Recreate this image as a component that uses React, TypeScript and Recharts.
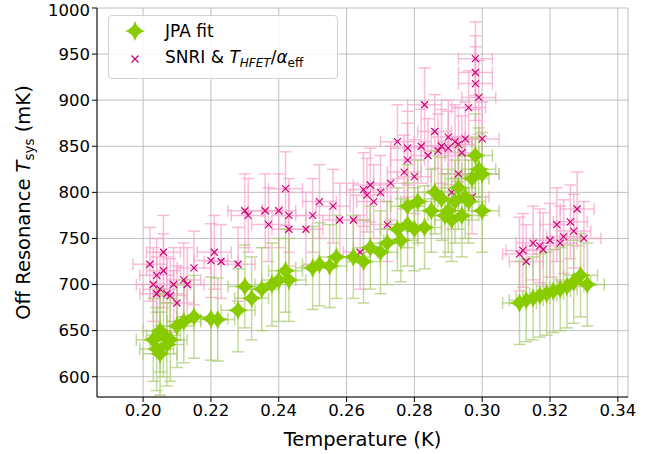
import React from 'react';
import { ScatterChart, Scatter, XAxis, YAxis, CartesianGrid, ErrorBar, Label } from 'recharts';

// JPA fit points [T (K), Tsys (mK)]
const jpaT = [0.203, 0.204, 0.205, 0.205, 0.206, 0.207, 0.208, 0.210, 0.212, 0.215, 0.220, 0.222, 0.228, 0.230, 0.232, 0.235, 0.238, 0.240, 0.242, 0.243, 0.250, 0.252, 0.255, 0.257, 0.262, 0.265, 0.267, 0.270, 0.272, 0.275, 0.276, 0.278, 0.278, 0.280, 0.281, 0.283, 0.285, 0.286, 0.288, 0.289, 0.290, 0.291, 0.292, 0.293, 0.294, 0.295, 0.296, 0.297, 0.298, 0.299, 0.300, 0.300, 0.311, 0.313, 0.315, 0.317, 0.319, 0.321, 0.323, 0.325, 0.327, 0.329, 0.331];
const jpaTsys = [640, 630, 625, 650, 645, 635, 640, 655, 660, 665, 663, 662, 672, 698, 685, 695, 700, 705, 715, 705, 718, 722, 720, 730, 730, 725, 740, 735, 745, 760, 748, 765, 785, 760, 790, 762, 780, 800, 793, 775, 780, 770, 790, 805, 775, 795, 790, 815, 840, 825, 820, 780, 680, 683, 685, 688, 690, 693, 695, 698, 703, 710, 700];

// SNRI & T_HFET/alpha_eff points
const snriT = [0.202, 0.203, 0.204, 0.204, 0.205, 0.206, 0.206, 0.207, 0.208, 0.209, 0.210, 0.212, 0.213, 0.215, 0.220, 0.221, 0.223, 0.228, 0.230, 0.231, 0.236, 0.237, 0.240, 0.242, 0.243, 0.243, 0.248, 0.250, 0.252, 0.256, 0.258, 0.262, 0.264, 0.265, 0.266, 0.267, 0.268, 0.270, 0.272, 0.273, 0.275, 0.277, 0.278, 0.278, 0.280, 0.282, 0.283, 0.284, 0.286, 0.287, 0.288, 0.290, 0.290, 0.291, 0.292, 0.293, 0.293, 0.294, 0.295, 0.296, 0.297, 0.298, 0.298, 0.298, 0.299, 0.300, 0.300, 0.311, 0.312, 0.313, 0.315, 0.317, 0.318, 0.320, 0.322, 0.323, 0.324, 0.326, 0.327, 0.328, 0.330];
const snriTsys = [722, 700, 690, 710, 695, 735, 715, 690, 688, 700, 680, 705, 700, 718, 726, 735, 725, 722, 780, 775, 780, 765, 780, 804, 760, 775, 760, 775, 790, 785, 770, 770, 735, 803, 797, 808, 790, 800, 765, 810, 855, 822, 835, 848, 817, 850, 895, 840, 866, 845, 850, 860, 848, 800, 855, 820, 852, 843, 858, 892, 795, 945, 930, 918, 903, 858, 820, 733, 737, 725, 745, 742, 738, 748, 765, 745, 752, 768, 758, 782, 750];

const tErr = 0.005;
const jpaErr = 45;
const snriErr = 40;

const xTicks = [0.20, 0.22, 0.24, 0.26, 0.28, 0.30, 0.32, 0.34];
const yTicks = [600, 650, 700, 750, 800, 850, 900, 950, 1000];

const jpaData = jpaT.map((t, i) => ({ x: t, y: jpaTsys[i], ex: tErr, ey: jpaErr }));
const snriData = snriT.map((t, i) => ({ x: t, y: snriTsys[i], ex: tErr, ey: snriErr }));

const font = 'DejaVu Sans, sans-serif';

const Star = (props: any) => {
  const { cx, cy } = props;
  const r = 10, c = 2.2;
  const d = `M${cx},${cy - r} Q${cx + c},${cy - c} ${cx + r},${cy} Q${cx + c},${cy + c} ${cx},${cy + r} Q${cx - c},${cy + c} ${cx - r},${cy} Q${cx - c},${cy - c} ${cx},${cy - r}Z`;
  return <path d={d} fill="#88cc00" />;
};

const Cross = (props: any) => {
  const { cx, cy } = props;
  const s = 3.5;
  return (
    <path d={`M${cx - s},${cy - s}L${cx + s},${cy + s}M${cx - s},${cy + s}L${cx + s},${cy - s}`} stroke="#cc0077" strokeWidth={1.2} />
  );
};

const YLabel = (props: any) => {
  const { viewBox } = props;
  const x = 30;
  const y = viewBox.y + viewBox.height / 2;
  return (
    <text x={x} y={y} transform={`rotate(-90 ${x} ${y})`} textAnchor="middle" fontFamily={font} fontSize={19.5} fill="#000">
      Off Resonance <tspan fontStyle="italic">T</tspan><tspan fontSize={13.5} dy={4}>sys</tspan><tspan dy={-4}> (mK)</tspan>
    </text>
  );
};

const App: React.FC = () => {
  const tick = { fontFamily: font, fontSize: 16.5, fill: '#000' };
  return (
    <div style={{ position: 'absolute', left: 0, top: 0, width: 656, height: 454, background: '#fff' }}>
      <ScatterChart width={656} height={454} margin={{ top: 8, right: 28, bottom: 0, left: 0 }}>
        <CartesianGrid stroke="#b0b0b0" strokeWidth={0.8} />
        <XAxis type="number" dataKey="x" domain={[0.1864, 0.343]} ticks={xTicks} tickFormatter={(v) => v.toFixed(2)}
          tick={tick} stroke="#000" tickSize={5} allowDataOverflow height={57}>
          <Label value="Temperature (K)" position="insideBottom" offset={8} style={{ fontFamily: font, fontSize: 19.5, fill: '#000' }} />
        </XAxis>
        <XAxis xAxisId="top" orientation="top" type="number" domain={[0, 1]} tick={false} tickLine={false} stroke="#000" height={0} />
        <YAxis type="number" dataKey="y" domain={[578, 1000]} ticks={yTicks} tick={tick} stroke="#000" tickSize={5} allowDataOverflow width={97} label={<YLabel />} />
        <YAxis yAxisId="right" orientation="right" type="number" domain={[0, 1]} tick={false} tickLine={false} stroke="#000" width={0} />
        <Scatter data={snriData} shape={<Cross />} isAnimationActive={false}>
          <ErrorBar dataKey="ey" direction="y" stroke="#f7a1cc" strokeOpacity={0.7} strokeWidth={1.5} width={6} />
          <ErrorBar dataKey="ex" direction="x" stroke="#f7a1cc" strokeOpacity={0.7} strokeWidth={1.5} width={6} />
        </Scatter>
        <Scatter data={jpaData} shape={<Star />} isAnimationActive={false}>
          <ErrorBar dataKey="ey" direction="y" stroke="#a8cc70" strokeOpacity={0.7} strokeWidth={1.5} width={6} />
          <ErrorBar dataKey="ex" direction="x" stroke="#a8cc70" strokeOpacity={0.7} strokeWidth={1.5} width={6} />
        </Scatter>
      </ScatterChart>
      <div style={{ position: 'absolute', left: 108, top: 15, width: 228, height: 62, border: '1px solid #d0d0d0', borderRadius: 4, background: 'rgba(255,255,255,0.85)', fontFamily: font, fontSize: 17 }}>
        <div style={{ position: 'absolute', left: 14, top: 3, display: 'flex', alignItems: 'center' }}>
          <svg width={24} height={24}><path d="M12,2 Q14.2,9.8 22,12 Q14.2,14.2 12,22 Q9.8,14.2 2,12 Q9.8,9.8 12,2Z" fill="#88cc00" /></svg>
          <span style={{ marginLeft: 18 }}>JPA fit</span>
        </div>
        <div style={{ position: 'absolute', left: 14, top: 31, display: 'flex', alignItems: 'center' }}>
          <svg width={24} height={24}><path d="M8.5,8.5L15.5,15.5M8.5,15.5L15.5,8.5" stroke="#cc0077" strokeWidth={1.2} /></svg>
          <span style={{ marginLeft: 18 }}>SNRI &amp; <i>T</i><sub style={{ fontSize: 12 }}><i>HFET</i></sub>/<i>α</i><sub style={{ fontSize: 12 }}>eff</sub></span>
        </div>
      </div>
    </div>
  );
};

export default App;
